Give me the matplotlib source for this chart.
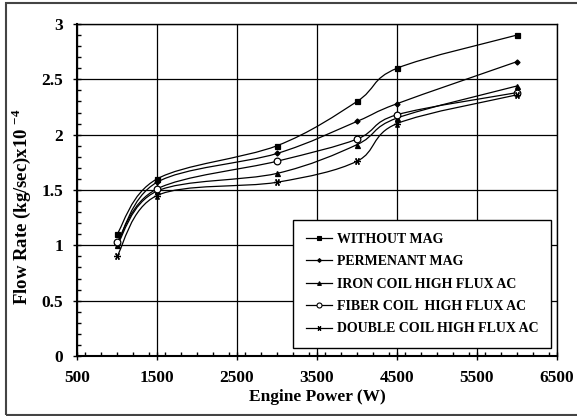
import numpy as np
import matplotlib
matplotlib.use("Agg")
import matplotlib.pyplot as plt
from matplotlib.path import Path
from matplotlib.patches import PathPatch, Rectangle
from matplotlib.lines import Line2D
from matplotlib.ticker import MultipleLocator

plt.rcParams['font.family'] = ['Liberation Serif', 'DejaVu Serif']
plt.rcParams['font.weight'] = 'bold'
plt.rcParams['mathtext.fontset'] = 'custom'
plt.rcParams['mathtext.rm'] = 'Liberation Serif:bold'
plt.rcParams['mathtext.bf'] = 'Liberation Serif:bold'

# data
power = [1000, 1500, 3000, 4000, 4500, 6000]
without_mag = [1.10, 1.60, 1.90, 2.30, 2.60, 2.90]
permanent_mag = [1.01, 1.57, 1.83, 2.12, 2.28, 2.66]
iron_coil = [1.00, 1.49, 1.65, 1.91, 2.15, 2.44]
fiber_coil = [1.03, 1.51, 1.76, 1.96, 2.18, 2.38]
double_coil = [0.90, 1.45, 1.57, 1.76, 2.10, 2.36]

labels = ["WITHOUT MAG", "PERMENANT MAG", "IRON COIL HIGH FLUX AC",
          "FIBER COIL  HIGH FLUX AC", "DOUBLE COIL HIGH FLUX AC"]
series = [without_mag, permanent_mag, iron_coil, fiber_coil, double_coil]
markers = ['s', 'D', '^', 'o', (6, 2, 90)]
msizes = [3.6, 2.6, 3.6, 4.8, 5.0]
mfc = ['black', 'black', 'black', 'white', 'black']


def smooth_path(x, y):
    # excel-like smoothed line: cubic bezier segments (catmull-rom style)
    pts = np.column_stack([x, y]).astype(float)
    n = len(pts)
    verts = [pts[0]]
    codes = [Path.MOVETO]
    for i in range(n - 1):
        p0 = pts[i - 1] if i > 0 else pts[i]
        p1 = pts[i]
        p2 = pts[i + 1]
        p3 = pts[i + 2] if i + 2 < n else pts[i + 1]
        c1 = p1 + (p2 - p0) / 6.0
        c2 = p2 - (p3 - p1) / 6.0
        verts += [c1, c2, p2]
        codes += [Path.CURVE4] * 3
    return Path(verts, codes)


fig = plt.figure(figsize=(5.77, 4.16), dpi=100)
ax = fig.add_axes([77 / 577, 60 / 416, 480 / 577, 332 / 416])

for vals, m, ms, fc in zip(series, markers, msizes, mfc):
    ax.add_patch(PathPatch(smooth_path(power, vals), fill=False,
                           edgecolor='black', lw=0.9, zorder=3))
    ax.plot(power, vals, ls='none', marker=m, ms=ms, mfc=fc, mec='black',
            mew=0.9, zorder=4)

ax.set_xlim(500, 6500)
ax.set_ylim(0, 3)
ax.xaxis.set_major_locator(MultipleLocator(1000))
ax.xaxis.set_minor_locator(MultipleLocator(200))
ax.yaxis.set_major_locator(MultipleLocator(0.5))
ax.yaxis.set_minor_locator(MultipleLocator(0.1))
ax.set_xticks(np.arange(500, 6501, 1000))
ax.set_yticks([0, 0.5, 1, 1.5, 2, 2.5, 3])
ax.set_yticklabels(['0', '0.5', '1', '1.5', '2', '2.5', '3'])
ax.grid(True, which='major', color='black', lw=0.9)
ax.tick_params(which='major', direction='inout', length=6, width=1,
               labelsize=12.5, pad=7)
ax.tick_params(which='minor', direction='in', length=3, width=1)
ax.tick_params(top=False, right=False, which='both')
for s in ax.spines.values():
    s.set_linewidth(1)
ax.spines['left'].set_linewidth(1.5)
ax.spines['bottom'].set_linewidth(1.5)

ax.set_xlabel("Engine Power (W)", fontsize=12.5, fontweight='bold', labelpad=2)
ax.set_ylabel(r"Flow Rate (kg/sec)x10 $^{\mathbf{-4}}$", fontsize=13.5,
              fontweight='bold')
ax.yaxis.set_label_coords(-0.092, 0.45)

handles = [Line2D([], [], color='black', lw=0.9, marker=m, ms=ms * 0.75,
                  mfc=fc, mec='black', mew=0.8)
           for m, ms, fc in zip(markers, msizes, mfc)]
leg = ax.legend(handles, labels, loc='lower left',
                bbox_to_anchor=(293 / 577, 68 / 416),
                bbox_transform=fig.transFigure, borderaxespad=0,
                prop={'family': 'Liberation Serif', 'weight': 'bold', 'size': 10},
                handlelength=1.9, handletextpad=0.35, labelspacing=0.68,
                borderpad=0.9, fancybox=False, framealpha=1, edgecolor='black')
leg.get_frame().set_linewidth(1)
leg.set_zorder(5)

fig.patches.append(Rectangle((5.5 / 577, 1.5 / 416), 1.2, 411.5 / 416,
                             transform=fig.transFigure, fill=False,
                             edgecolor='#444444', lw=1.5))

fig.savefig("out.png", dpi=100)
